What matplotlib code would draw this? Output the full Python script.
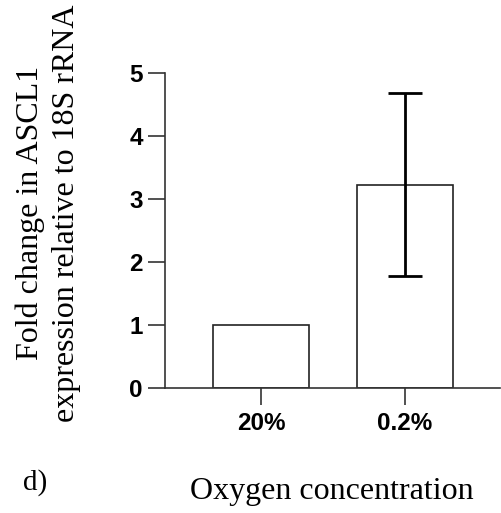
import matplotlib
matplotlib.use("Agg")
import matplotlib.pyplot as plt

categories = ["20%", "0.2%"]
means = [1.0, 3.23]
errors = [0.0, 1.46]
yticks = [0, 1, 2, 3, 4, 5]

W, H = 502, 513
fig = plt.figure(figsize=(W / 100, H / 100), dpi=100)

# axes box in pixel units
x0, x1 = 165, 500
y0, y1 = 388, 73
ax = fig.add_axes([x0 / W, 1 - y0 / H, (x1 - x0) / W, (y0 - y1) / H])

pos = list(range(len(categories)))
ax.bar(pos, means, width=0.667, color="white", edgecolor="#222222", linewidth=1.2, zorder=2)
for p, m, e in zip(pos, means, errors):
    if e > 0:
        ax.errorbar(p, m, yerr=e, fmt="none", ecolor="black", elinewidth=2,
                    capsize=12, capthick=2, zorder=3)

ax.set_xlim(-0.667, 1.66)
ax.set_ylim(0, 5)
ax.set_yticks(yticks)
ax.set_xticks(pos)
ax.set_xticklabels(categories)

for s in ["top", "right"]:
    ax.spines[s].set_visible(False)
for s in ["left", "bottom"]:
    ax.spines[s].set_linewidth(1.2)
    ax.spines[s].set_color("#333333")

ax.tick_params(axis="y", length=12, width=1.2, color="#333333", pad=4)
ax.tick_params(axis="x", length=12, width=1.2, color="#333333", pad=5)
for lab in ax.get_xticklabels() + ax.get_yticklabels():
    lab.set_fontfamily("Liberation Sans")
    lab.set_fontweight("bold")
    lab.set_fontsize(17.5)

serif = "Liberation Serif"
fig.text(48 / W, 1 - 213 / H, "Fold change in ASCL1\nexpression relative to 18S rRNA",
         fontfamily=serif, fontsize=23, rotation=90, ha="center", va="center",
         multialignment="center", linespacing=1.3)
fig.text(332 / W, 1 - 492 / H, "Oxygen concentration", fontfamily=serif, fontsize=23,
         ha="center", va="center")
fig.text(23 / W, 1 - 483 / H, "d)", fontfamily=serif, fontsize=21, va="center", ha="left")

fig.savefig("out.png", dpi=100, facecolor="white")
